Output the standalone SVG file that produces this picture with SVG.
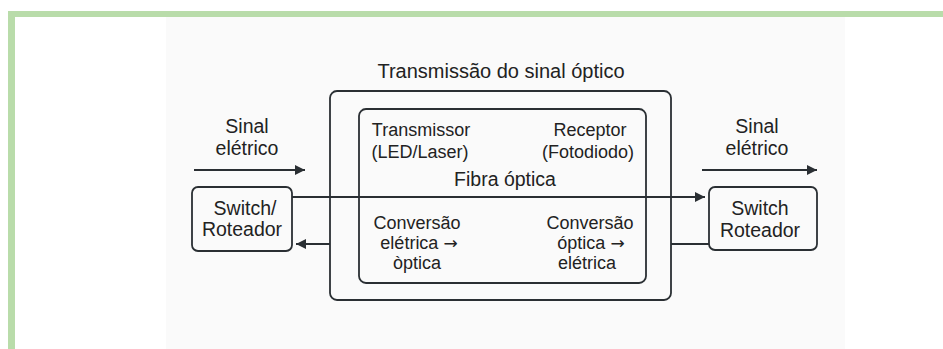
<svg xmlns="http://www.w3.org/2000/svg" width="943" height="349" viewBox="0 0 943 349">
<defs>
<marker id="ah" viewBox="0 0 10 10" refX="10" refY="5" markerWidth="10" markerHeight="10" markerUnits="userSpaceOnUse" orient="auto">
<path d="M0,0 L10,5 L0,10 z" fill="#2a2f33"/>
</marker>
<style>
.box{fill:none;stroke:#2a2f33;stroke-width:1.8}
.ln{fill:none;stroke:#2a2f33;stroke-width:1.8}
text{font-family:"Liberation Sans",Arial,sans-serif;font-size:18px;fill:#222}
.c{text-anchor:middle}
.big{font-size:19.5px}
.t{font-size:20px}
.ar{font-family:"DejaVu Sans",sans-serif;font-size:17px}
</style>
</defs>
<rect x="0" y="0" width="943" height="349" fill="#ffffff"/>
<rect x="166" y="17" width="679" height="332" fill="#fafafa"/>
<rect x="8" y="11" width="935" height="6" fill="#b9dcaa"/>
<rect x="8" y="11" width="7" height="338" fill="#b9dcaa"/>

<g id="optical-block">
<rect class="box" x="330" y="91" width="341" height="209" rx="7"/>
<text class="c t" x="501" y="78">Transmissão do sinal óptico</text>
</g>
<g id="inner-block">
<rect class="box" x="359" y="109" width="287" height="174" rx="7"/>
<text class="c" x="421" y="136">Transmissor</text>
<text class="c" x="420" y="158">(LED/Laser)</text>
<text class="c" x="590" y="136">Receptor</text>
<text class="c" x="588" y="158">(Fotodiodo)</text>
<text class="c big" x="505" y="186">Fibra óptica</text>
<text class="c" x="417" y="229">Conversão</text>
<text class="c" x="419" y="249">elétrica <tspan class="ar">→</tspan></text>
<text class="c" x="417" y="269">òptica</text>
<text class="c" x="590" y="229">Conversão</text>
<text class="c" x="591" y="249">óptica <tspan class="ar">→</tspan></text>
<text class="c" x="587" y="269">elétrica</text>
</g>
<g id="switch-left">
<rect class="box" x="192" y="187" width="100" height="64" rx="6"/>
<text class="c big" x="245" y="215">Switch/</text>
<text class="c big" x="242" y="236">Roteador</text>
</g>
<g id="switch-right">
<rect class="box" x="709" y="187" width="108" height="63" rx="6"/>
<text class="c big" x="760" y="215">Switch</text>
<text class="c big" x="760" y="237">Roteador</text>
</g>
<g id="label-left">
<text class="c big" x="247" y="133">Sinal</text>
<text class="c big" x="247" y="155">elétrico</text>
</g>
<g id="label-right">
<text class="c big" x="757" y="133">Sinal</text>
<text class="c big" x="757" y="155">elétrico</text>
</g>
<g id="connectors">
<line class="ln" x1="194" y1="170" x2="305" y2="170" marker-end="url(#ah)"/>
<line class="ln" x1="702" y1="170" x2="817" y2="170" marker-end="url(#ah)"/>
<line class="ln" x1="292" y1="197" x2="705" y2="197" marker-end="url(#ah)"/>
<line class="ln" x1="330" y1="244" x2="296" y2="244" marker-end="url(#ah)"/>
<line class="ln" x1="671" y1="244" x2="709" y2="244"/>
</g>
</svg>
